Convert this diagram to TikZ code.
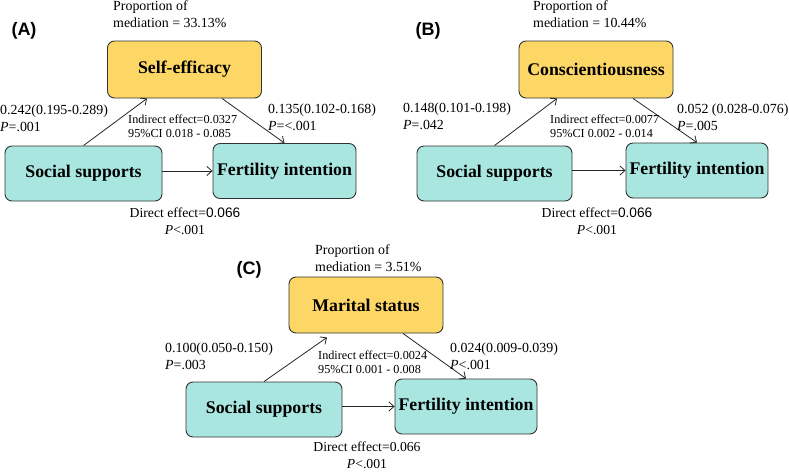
\documentclass[tikz,border=0pt]{standalone}
\usepackage{fontspec}
\setmainfont{Liberation Serif}
\newfontfamily\arialfont{Liberation Sans}
\usetikzlibrary{arrows.meta}

\definecolor{medyellow}{HTML}{FDD766}
\definecolor{boxcyan}{HTML}{A9E6E0}

\tikzset{
  varbox/.style={draw=black!80, line width=0.9pt, rounded corners=7pt,
    inner sep=3pt, font=\fontsize{17.8}{20}\selectfont\bfseries},
  medbox/.style={varbox, fill=medyellow, minimum width=154pt, minimum height=57pt},
  endbox/.style={varbox, fill=boxcyan, minimum height=55pt},
  coef/.style={align=left, anchor=west, inner sep=0pt, font=\fontsize{13.9}{17}\selectfont},
  indir/.style={align=left, anchor=west, inner sep=0pt, font=\fontsize{12.2}{14}\selectfont},
  direct/.style={align=center, inner sep=0pt, font=\fontsize{13.7}{17}\selectfont},
  panel/.style={inner sep=0pt, font=\fontsize{18}{18}\selectfont\arialfont\bfseries},
  path/.style={draw=black!85, line width=0.8pt, -{Straight Barb[length=5pt,width=9pt]}}
}

\begin{document}
\begin{tikzpicture}[x=1pt,y=-1pt]
  \useasboundingbox (0,0) rectangle (789,471);

  % (A) self-efficacy
  \node[panel] (labA) at (24,31) {(A)};
  \node[medbox] (seA) at (184.5,69.5) {Self-efficacy};
  \node[endbox, minimum width=157pt] (ssA) at (83.5,173.5) {Social supports};
  \node[endbox, minimum width=143pt] (fiA) at (284.5,171) {Fertility intention};
  \draw[path] (ssA.north) -- ([xshift=-37.5pt]seA.south);
  \draw[path] ([xshift=37.5pt]seA.south) -- (fiA.north);
  \draw[path] (ssA.east |- fiA) -- (fiA.west);
  \node[coef] (propA) at (113,14) {Proportion of\\mediation = 33.13\%};
  \node[coef] (aA) at (0,118.5) {0.242(0.195-0.289)\\\textit{P}=.001};
  \node[coef] (bA) at (268,117.5) {0.135(0.102-0.168)\\\textit{P}=<.001};
  \node[indir] (indA) at (128,126) {Indirect effect=0.0327\\95\%CI 0.018 - 0.085};
  \node[direct] (dirA) at (185,221.5) {Direct effect={\arialfont 0.066}\\\textit{P}<.001};

  % (B) conscientiousness
  \node[panel] (labB) at (428,31) {(B)};
  \node[medbox] (coB) at (596,69.5) {Conscientiousness};
  \node[endbox, minimum width=155pt] (ssB) at (494.5,173.5) {Social supports};
  \node[endbox, minimum width=142pt] (fiB) at (697,170.5) {Fertility intention};
  \draw[path] (ssB.north) -- ([xshift=-39pt]coB.south);
  \draw[path] ([xshift=37pt]coB.south) -- (fiB.north);
  \draw[path] (ssB.east |- fiB) -- (fiB.west);
  \node[coef] (propB) at (533,14) {Proportion of\\mediation = 10.44\%};
  \node[coef] (aB) at (403,116) {0.148(0.101-0.198)\\\textit{P}=.042};
  \node[coef] (bB) at (677,117.5) {0.052 (0.028-0.076)\\\textit{P}=.005};
  \node[indir] (indB) at (550,126) {Indirect effect=0.0077\\95\%CI 0.002 - 0.014};
  \node[direct] (dirB) at (597,221.5) {Direct effect={\arialfont 0.066}\\\textit{P}<.001};

  % (C) marital status
  \node[panel] (labC) at (249,270) {(C)};
  \node[medbox, minimum height=56pt] (msC) at (366,305) {Marital status};
  \node[endbox, minimum width=156pt] (ssC) at (264,409.5) {Social supports};
  \node[endbox, minimum width=142pt] (fiC) at (466,406.5) {Fertility intention};
  \draw[path] (ssC.north) -- ([xshift=-39pt,yshift=-4pt]msC.south);
  \draw[path] ([xshift=37pt]msC.south) -- (fiC.north);
  \draw[path] (ssC.east |- fiC) -- (fiC.west);
  \node[coef] (propC) at (315,258.5) {Proportion of\\mediation = 3.51\%};
  \node[coef] (aC) at (165,356.5) {0.100(0.050-0.150)\\\textit{P}=.003};
  \node[coef] (bC) at (450,356.5) {0.024(0.009-0.039)\\\textit{P}<.001};
  \node[indir] (indC) at (318,362.5) {Indirect effect=0.0024\\95\%CI 0.001 - 0.008};
  \node[direct] (dirC) at (367,455) {Direct effect=0.066\\\textit{P}<.001};
\end{tikzpicture}
\end{document}
